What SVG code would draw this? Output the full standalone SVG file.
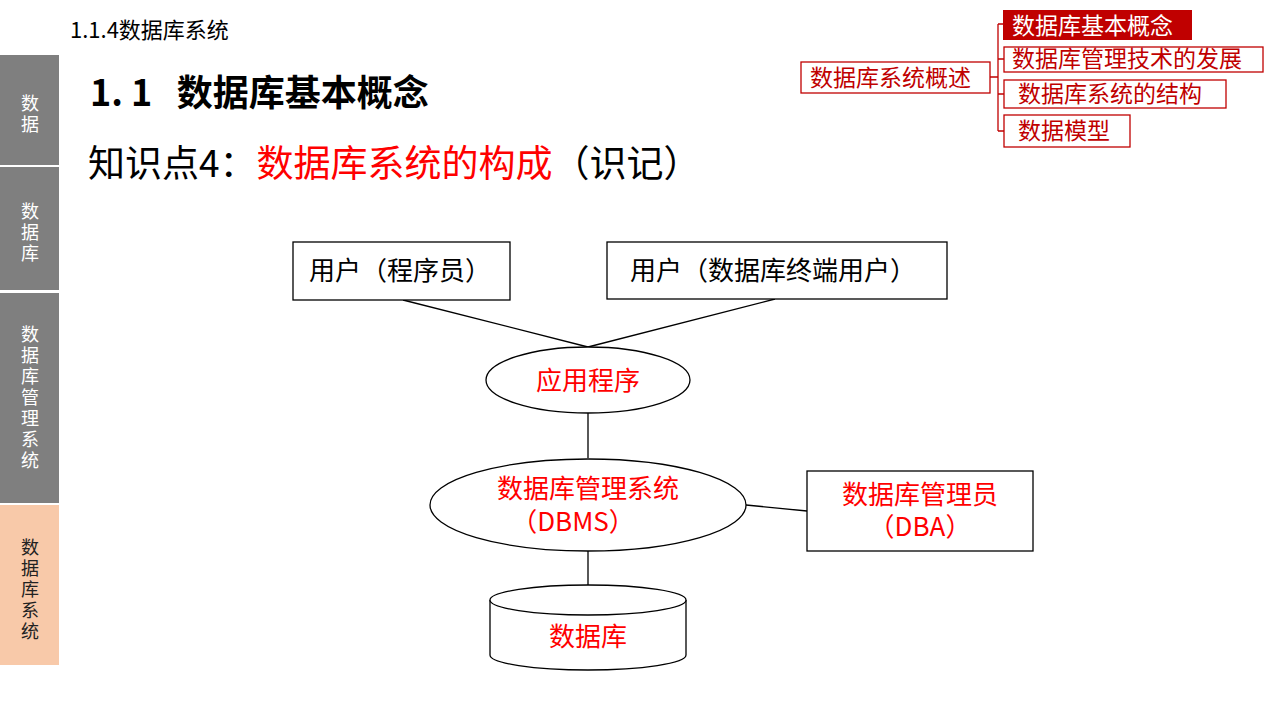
<svg xmlns="http://www.w3.org/2000/svg" width="1280" height="720" viewBox="0 0 1280 720">
<style>
text{font-family:"Microsoft YaHei","Noto Sans CJK SC",sans-serif}
.side{fill:#ffffff;font-size:18px;text-anchor:middle;writing-mode:vertical-rl;letter-spacing:3px}
.red{fill:#ff0000}
.box{fill:#ffffff;stroke:#000;stroke-width:1.3}
.con{stroke:#000;stroke-width:1.3;fill:none}
.tb{fill:#fff;stroke:#c00000;stroke-width:1.3}
.tt{fill:#c00000;font-size:23px}
.lbl{font-size:26px;text-anchor:middle}
</style>
<rect width="1280" height="720" fill="#fff"/>
<g id="sidebar">
<rect x="0" y="55" width="59" height="110" fill="#7f7f7f"/>
<rect x="0" y="167" width="59" height="123" fill="#7f7f7f"/>
<rect x="0" y="293" width="59" height="210" fill="#7f7f7f"/>
<rect x="0" y="505" width="59" height="160" fill="#f8c9a9"/>
<text class="side" x="30" y="115">数据</text>
<text class="side" x="30" y="234">数据库</text>
<text class="side" x="30" y="399">数据库管理系统</text>
<text class="side" style="fill:#222" x="30" y="591">数据库系统</text>
</g>
<g id="titles">
<text x="70" y="38" font-size="22" fill="#000">1.1.4数据库系统</text>
<text x="90" y="106" font-size="36" font-weight="bold" fill="#000" xml:space="preserve">1. 1   数据库基本概念</text>
<text x="88" y="177" font-size="37" fill="#000">知识点4：<tspan fill="#ff0000">数据库系统的构成</tspan>（识记）</text>
</g>
<g id="nav">
<rect x="801" y="62" width="189" height="31" class="tb"/>
<text class="tt" x="810" y="86">数据库系统概述</text>
<rect x="1003" y="10" width="189" height="30" fill="#c00000"/>
<text x="1012" y="34" font-size="23" fill="#fff">数据库基本概念</text>
<rect x="1004" y="47" width="259" height="25" class="tb"/>
<text class="tt" x="1012" y="67">数据库管理技术的发展</text>
<rect x="1004" y="80" width="222" height="28" class="tb"/>
<text class="tt" x="1018" y="102">数据库系统的结构</text>
<rect x="1004" y="115" width="126" height="32" class="tb"/>
<text class="tt" x="1018" y="139">数据模型</text>
<path d="M990 77H998M998 24V131M998 24H1004M998 59H1004M998 94H1004M998 131H1004" stroke="#c00000" stroke-width="1.3" fill="none"/>
</g>
<g id="connectors">
<path class="con" d="M403 300L588 347M775 299L588 347M588 413V458M746 505L807 511M588 551V585"/>
</g>
<g id="prog"><rect class="box" x="293" y="242" width="217" height="58"/><text class="lbl" x="400" y="280">用户（程序员）</text></g>
<g id="enduser"><rect class="box" x="607" y="242" width="340" height="57"/><text class="lbl" x="773" y="280">用户（数据库终端用户）</text></g>
<g id="app"><ellipse class="box" cx="588" cy="380" rx="102" ry="33"/><text class="lbl red" x="588" y="390">应用程序</text></g>
<g id="dbms"><ellipse class="box" cx="588" cy="505" rx="158" ry="46"/><text class="lbl red" x="588" y="498">数据库管理系统</text><text class="lbl red" x="573" y="531">（DBMS）</text></g>
<g id="dba"><rect class="box" x="807" y="471" width="226" height="80"/><text class="lbl red" x="920" y="504">数据库管理员</text><text class="lbl red" x="920" y="536">（DBA）</text></g>
<g id="db"><path class="box" d="M490 600V655A98 15 0 0 0 686 655V600"/><ellipse class="box" cx="588" cy="600" rx="98" ry="15"/><text class="lbl red" x="588" y="646">数据库</text></g>
</svg>
